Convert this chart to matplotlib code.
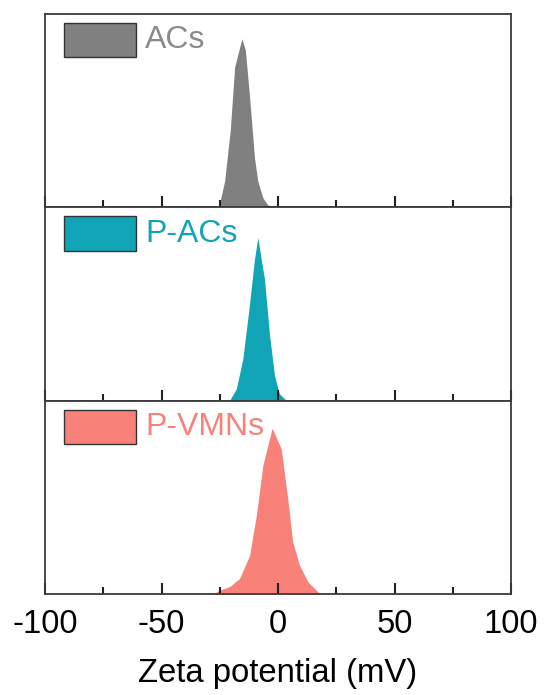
import matplotlib
matplotlib.use("Agg")
import matplotlib.pyplot as plt
from matplotlib.patches import Rectangle
from matplotlib.ticker import MultipleLocator

plt.rcParams['font.family'] = ['Liberation Sans', 'DejaVu Sans']

# Data (zeta potential in mV, relative intensity)
acs_x = [-25.4, -22.9, -20.5, -18.6, -17.0, -15.5, -14.0, -12.2, -10.1, -8.7, -6.5, -4.5, -2.9]
acs_y = [0, 13.5, 39.5, 72.4, 80, 87, 81, 57, 25.6, 13.5, 4.8, 1.2, 0.3]

pacs_x = [-20.8, -17.9, -15.1, -12.5, -10.1, -8.65, -7.2, -5.8, -3.6, -1.5, 0.6, 2.8, 4.0]
pacs_y = [0, 6, 21.5, 47, 73, 84.2, 73, 62.7, 33.5, 12.9, 3.5, 0.9, 0]

pvmn_x = [-28, -25, -20.8, -16.5, -12.2, -9.3, -6.5, -2.5, 1.4, 4.2, 6.3, 9.2, 12.8, 16.4, 18]
pvmn_y = [0, 2, 3.8, 8, 20, 40.7, 66.5, 85.7, 75, 49, 27, 15, 6.3, 2, 0]

labels = ["ACs", "P-ACs", "P-VMNs"]
colors = ["#808080", "#11a3b6", "#f8817a"]
text_colors = ["#8a8a8a", "#11a3b6", "#f8817a"]
series = [(acs_x, acs_y), (pacs_x, pacs_y), (pvmn_x, pvmn_y)]

xticks = [-100, -50, 0, 50, 100]
xlabel = "Zeta potential (mV)"

fig = plt.figure(figsize=(5.44, 6.95), dpi=100)
left = 45 / 544
width = 466 / 544
top_px = 13.5
bottom_px = 594
ph = (bottom_px - top_px) / 3

spine_c = "#3a3a3a"
axes = []
for i, ((x, y), lab, c, tc) in enumerate(zip(series, labels, colors, text_colors)):
    y0 = 1 - (top_px + (i + 1) * ph) / 695
    ax = fig.add_axes([left, y0, width, ph / 695])
    ax.fill_between(x, 0, y, color=c, linewidth=0, zorder=1)
    ax.set_xlim(-100, 100)
    ax.set_ylim(0, 100)
    ax.set_yticks([])
    ax.xaxis.set_major_locator(MultipleLocator(50))
    ax.xaxis.set_minor_locator(MultipleLocator(25))
    ax.tick_params(axis='x', which='major', direction='in', length=8, width=1.5,
                   color='#222222', top=False)
    ax.tick_params(axis='x', which='minor', direction='in', length=5, width=1.5,
                   color='#222222', top=False)
    for s in ax.spines.values():
        s.set_color(spine_c)
        s.set_linewidth(1.3)
    # legend-like key
    ax.add_patch(Rectangle((0.041, 0.774), 0.154, 0.177, transform=ax.transAxes,
                           facecolor=c, edgecolor='#333333', linewidth=1.0, zorder=3))
    ax.text(0.215, 0.862, lab, transform=ax.transAxes, color=tc, fontsize=23,
            va='center', ha='left')
    if i < 2:
        ax.tick_params(axis='x', which='both', labelbottom=False)
    else:
        ax.set_xticks(xticks)
        ax.set_xticklabels([str(v) for v in xticks], fontsize=23.5)
        ax.tick_params(axis='x', which='major', pad=11)
        ax.set_xlabel(xlabel, fontsize=23.7, labelpad=13)
    axes.append(ax)

fig.savefig("out.png", dpi=100)
